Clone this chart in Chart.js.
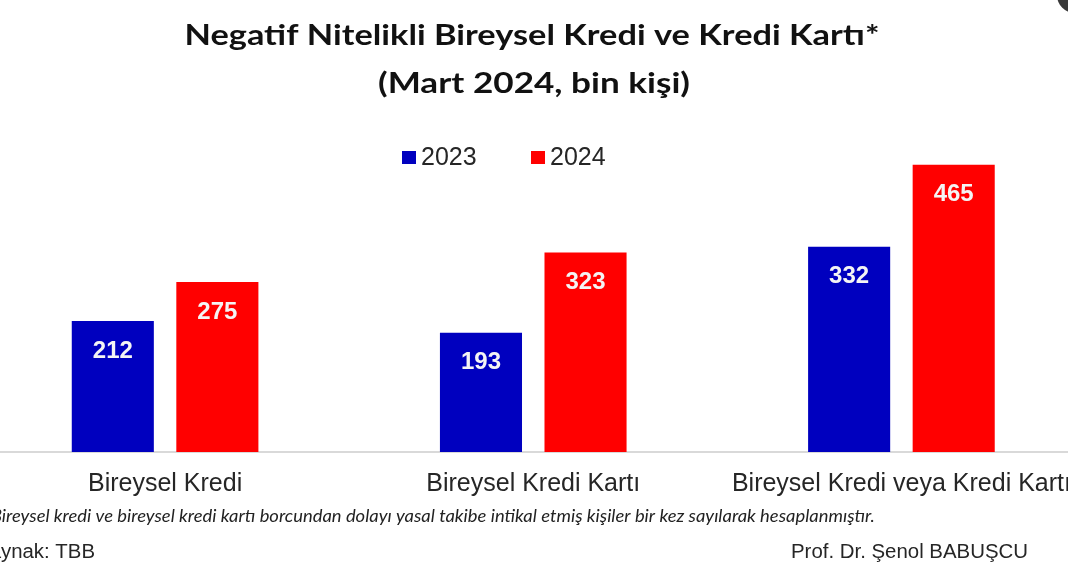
<!DOCTYPE html>
<html lang="tr">
<head>
<meta charset="utf-8">
<title>Negatif Nitelikli Bireysel Kredi ve Kredi Kartı</title>
<script src="https://cdn.jsdelivr.net/npm/chart.js@4.4.1/dist/chart.umd.min.js"></script>
<style>
  html, body { margin: 0; padding: 0; background: #fff; overflow: hidden; }
  body { width: 1068px; height: 587px; position: relative; }
  #wrap { position: absolute; left: -21px; top: 0; width: 1110px; height: 587px; }
  #dot { position: absolute; left: 1057px; top: -23px; width: 36px; height: 36px; border-radius: 50%; background: #3a3a3a; }
</style>
</head>
<body>
<div id="wrap"><canvas id="chart"></canvas></div>
<div id="dot"></div>
<script>
var categories = ['Bireysel Kredi', 'Bireysel Kredi Kartı', 'Bireysel Kredi veya Kredi Kartı'];
var seriesNames = ['2023', '2024'];
var values2023 = [212, 193, 332];
var values2024 = [275, 323, 465];
var colors = ['#0000BF', '#FF0000'];

var OX = 21; // canvas is shifted left, page x + OX = canvas x
var sans = 'Liberation Sans, Arial, sans-serif';

function fitText(ctx, text, x, y, font, width, align) {
  ctx.font = font;
  var s = width ? width / ctx.measureText(text).width : 1;
  ctx.save();
  ctx.translate(x, y);
  ctx.scale(s, 1);
  ctx.textAlign = align || 'left';
  ctx.fillText(text, 0, 0);
  ctx.restore();
}

// text whose first letters are cut off by the left edge
function cutText(ctx, prefix, rest, x, y, font, width) {
  ctx.font = font;
  var s = width / ctx.measureText(rest).width;
  var p = ctx.measureText(prefix).width * s;
  ctx.save();
  ctx.translate(x - p, y);
  ctx.scale(s, 1);
  ctx.textAlign = 'left';
  ctx.fillText(prefix + rest, 0, 0);
  ctx.restore();
}

var pageText = {
  id: 'pageText',
  afterDatasetsDraw: function (chart) {
    var ctx = chart.ctx;
    ctx.save();
    ctx.fillStyle = '#f4f4f4';
    ctx.font = 'bold 24px ' + sans;
    ctx.textAlign = 'center';
    ctx.textBaseline = 'middle';
    chart.data.datasets.forEach(function (ds, i) {
      chart.getDatasetMeta(i).data.forEach(function (bar, j) {
        ctx.fillText(String(ds.data[j]), bar.x, bar.y + 30);
      });
    });
    ctx.restore();
  },
  afterDraw: function (chart) {
    var ctx = chart.ctx;
    ctx.save();
    ctx.textBaseline = 'alphabetic';
    ctx.fillStyle = '#111';
    fitText(ctx, 'Negatif Nitelikli Bireysel Kredi ve Kredi Kartı*', 532 + OX, 45, 'bold 28px Lato, sans-serif', 695, 'center');
    fitText(ctx, '(Mart 2024, bin kişi)', 534 + OX, 93, 'bold 28px Lato, sans-serif', 312, 'center');

    // legend
    var lx = [402, 531];
    ctx.textBaseline = 'middle';
    seriesNames.forEach(function (name, i) {
      ctx.fillStyle = colors[i];
      ctx.fillRect(lx[i] + OX, 151, 14, 13);
      ctx.fillStyle = '#262626';
      ctx.font = '25px ' + sans;
      ctx.textAlign = 'left';
      ctx.fillText(name, lx[i] + 19 + OX, 158);
    });

    // notes
    ctx.textBaseline = 'alphabetic';
    ctx.fillStyle = '#222';
    cutText(ctx, '*B', 'ireysel kredi ve bireysel kredi kartı borcundan dolayı yasal takibe intikal etmiş kişiler bir kez sayılarak hesaplanmıştır.',
      2 + OX, 522, 'italic 17px Lato, sans-serif', 873);
    ctx.fillStyle = '#262626';
    cutText(ctx, 'Ka', 'ynak: TBB', 1 + OX, 558, '20px ' + sans, 94);
    fitText(ctx, 'Prof. Dr. Şenol BABUŞCU', 791 + OX, 558, '20px ' + sans, 237, 'left');
    ctx.restore();
  }
};

new Chart(document.getElementById('chart'), {
  type: 'bar',
  data: {
    labels: categories,
    datasets: [
      { label: seriesNames[0], data: values2023, backgroundColor: colors[0], borderWidth: 0 },
      { label: seriesNames[1], data: values2024, backgroundColor: colors[1], borderWidth: 0 }
    ]
  },
  options: {
    responsive: true,
    maintainAspectRatio: false,
    animation: false,
    layout: { padding: { top: 143, bottom: 71, left: 2, right: 3.5 } },
    datasets: { bar: { categoryPercentage: 0.568, barPercentage: 0.785 } },
    plugins: { legend: { display: false }, title: { display: false }, tooltip: { enabled: false } },
    scales: {
      x: {
        grid: { display: false, drawTicks: false },
        border: { display: true, color: '#d9d9d9', width: 2 },
        ticks: { color: '#262626', font: { family: sans, size: 25 }, padding: 17, maxRotation: 0, autoSkip: false }
      },
      y: { display: false, min: 0, max: 500 }
    }
  },
  plugins: [pageText]
});
</script>
</body>
</html>
